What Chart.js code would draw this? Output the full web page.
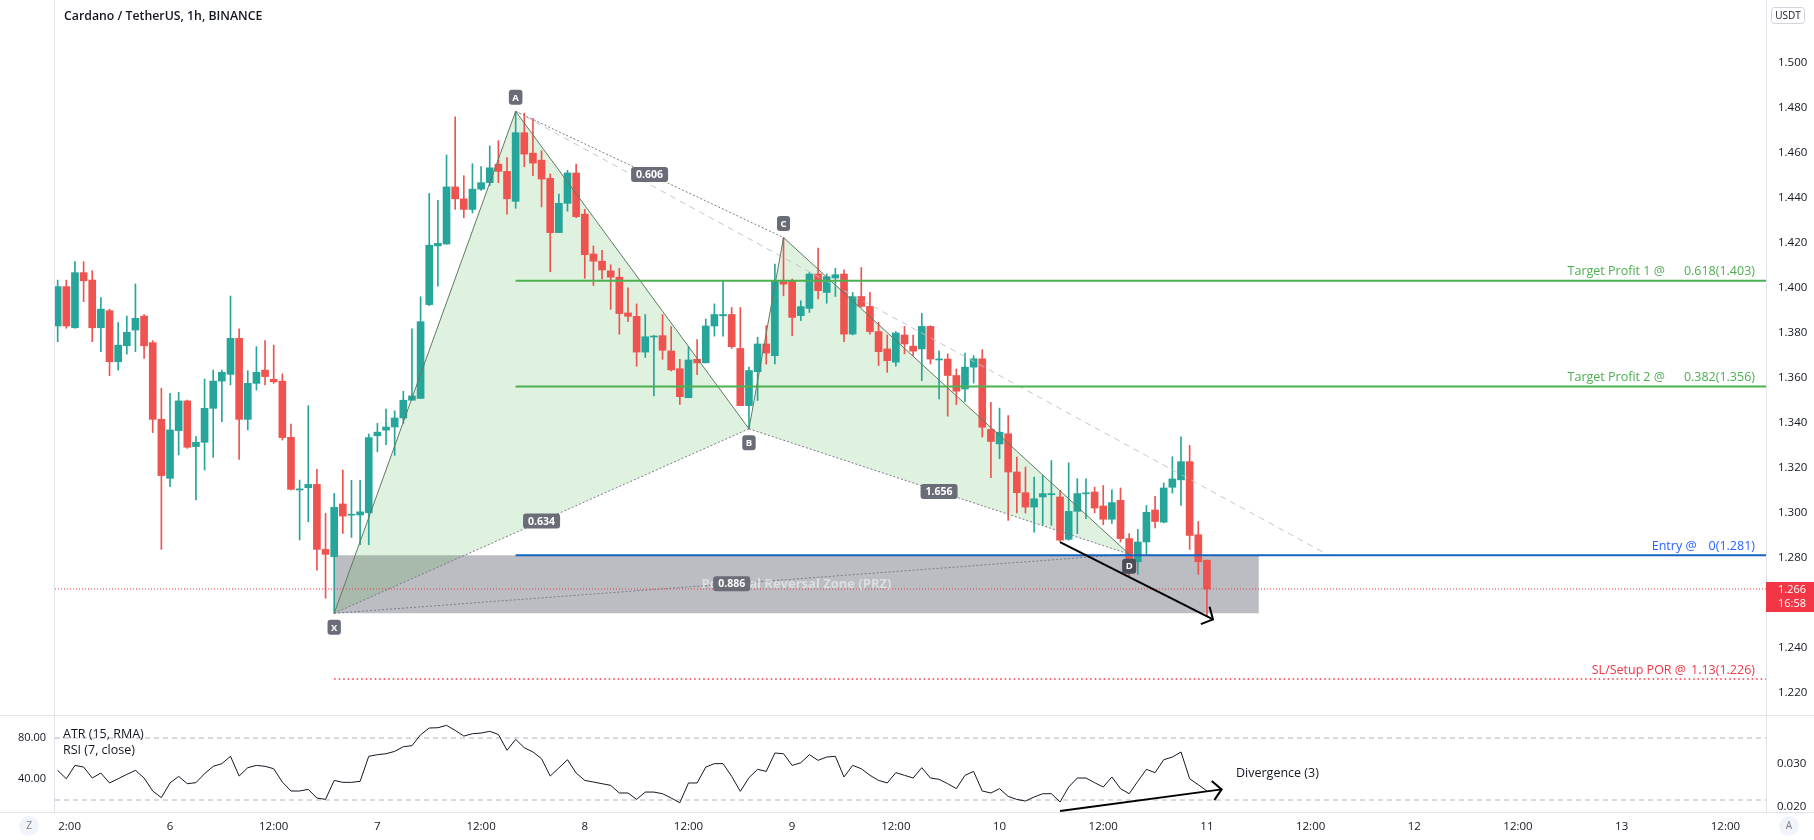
<!DOCTYPE html>
<html><head><meta charset="utf-8">
<script src="https://cdn.jsdelivr.net/npm/chart.js@4.4.0/dist/chart.umd.min.js"></script>
<style>
html,body{margin:0;padding:0;background:#fff;}
#wrap{position:relative;width:1814px;height:840px;overflow:hidden;background:#fff;}
#main{position:absolute;left:0;top:0;width:1814px;height:715px;}
#rsi{position:absolute;left:0;top:715px;width:1814px;height:125px;}
</style></head><body>
<div id="wrap"><canvas id="main" width="1814" height="715"></canvas><canvas id="rsi" width="1814" height="125"></canvas></div>
<script>
// ---------------- DATA ----------------
const chartTitle = 'Cardano / TetherUS, 1h, BINANCE';
// hours counted from day 5, 00:00 ; first candle = day 5 11:00, one candle per hour
const firstCandleHour = 11;
const opens = [1.3829,1.4004,1.3821,1.4066,1.4033,1.3821,1.3897,1.3670,1.3741,1.3811,
1.3873,1.3755,1.3414,1.3152,1.3364,1.3496,1.3293,1.3312,1.3463,1.3584,
1.3614,1.3774,1.3414,1.3574,1.3633,1.3592,1.3584,1.3334,1.3100,1.3110,
1.3125,1.2836,1.2804,1.3038,1.2988,1.2989,1.2999,1.3341,1.3366,1.3380,
1.3420,1.3499,1.3507,1.3924,1.4185,1.4193,1.4447,1.4394,1.4347,1.4437,
1.4466,1.4548,1.4516,1.4383,1.4688,1.4597,1.4566,1.4485,1.4244,1.4374,
1.4509,1.4326,1.4149,1.4117,1.4074,1.4046,1.3887,1.3872,1.3713,1.3780,
1.3786,1.3718,1.3639,1.3510,1.3681,1.3665,1.3829,1.3874,1.3880,1.3729,
1.3475,1.3626,1.3749,1.3697,1.4030,1.4030,1.3875,1.3907,1.4060,1.3978,
1.4042,1.4060,1.3793,1.3960,1.3916,1.3804,1.3727,1.3668,1.3789,1.3739,
1.3727,1.3827,1.3678,1.3682,1.3609,1.3549,1.3646,1.3683,1.3369,1.3305,
1.3350,1.3180,1.3088,1.3024,1.3069,1.3079,1.3069,1.2881,1.3005,1.3083,
1.3091,1.3029,1.2970,1.3054,1.2884,1.2781,1.2869,1.3011,1.2957,1.3112,
1.3145,1.3226,1.2901,1.2788];
const highs = [1.4033,1.4033,1.4115,1.4115,1.4075,1.3955,1.3904,1.3844,1.3873,1.4016,
1.3880,1.3764,1.3552,1.3530,1.3534,1.3500,1.3337,1.3593,1.3633,1.3633,
1.3962,1.3816,1.3630,1.3737,1.3764,1.3744,1.3616,1.3393,1.3144,1.3475,
1.3192,1.2996,1.3085,1.3189,1.3143,1.3143,1.3349,1.3396,1.3460,1.3452,
1.3539,1.3816,1.3959,1.4418,1.4387,1.4589,1.4759,1.4497,1.4550,1.4537,
1.4629,1.4653,1.4577,1.4783,1.4775,1.4751,1.4608,1.4505,1.4415,1.4521,
1.4548,1.4347,1.4185,1.4165,1.4101,1.4085,1.3998,1.3927,1.3880,1.3786,
1.3880,1.3826,1.3681,1.3737,1.3769,1.3860,1.3927,1.4030,1.3911,1.3911,
1.3646,1.3779,1.3830,1.4104,1.4222,1.4037,1.3941,1.4067,1.4175,1.4060,
1.4085,1.4079,1.3978,1.4089,1.3978,1.3845,1.3789,1.3804,1.3827,1.3789,
1.3885,1.3830,1.3719,1.3705,1.3638,1.3708,1.3697,1.3724,1.3490,1.3464,
1.3431,1.3246,1.3202,1.3157,1.3165,1.3231,1.3098,1.3221,1.3150,1.3150,
1.3113,1.3120,1.3101,1.3109,1.2906,1.2925,1.3031,1.3072,1.3131,1.3248,
1.3336,1.3298,1.2960,1.2788];
const lows = [1.3759,1.3819,1.3819,1.3937,1.3759,1.3715,1.3608,1.3633,1.3704,1.3715,
1.3685,1.3355,1.2836,1.3115,1.3256,1.3285,1.3056,1.3189,1.3245,1.3404,
1.3567,1.3236,1.3367,1.3544,1.3567,1.3574,1.3322,1.3100,1.2878,1.2959,
1.2744,1.2619,1.2552,1.2907,1.2889,1.2857,1.2857,1.3270,1.3301,1.3254,
1.3396,1.3499,1.3507,1.3919,1.4006,1.4193,1.4347,1.4310,1.4331,1.4432,
1.4453,1.4466,1.4326,1.4352,1.4537,1.4497,1.4358,1.4070,1.4244,1.4339,
1.4310,1.4041,1.4009,1.4038,1.3903,1.3792,1.3848,1.3650,1.3689,1.3518,
1.3681,1.3629,1.3480,1.3510,1.3613,1.3665,1.3784,1.3784,1.3729,1.3475,
1.3372,1.3498,1.3660,1.3660,1.3963,1.3786,1.3853,1.3889,1.3949,1.3930,
1.3960,1.3759,1.3789,1.3912,1.3793,1.3653,1.3623,1.3650,1.3705,1.3697,
1.3586,1.3660,1.3505,1.3428,1.3480,1.3493,1.3575,1.3335,1.3155,1.3239,
1.2965,1.2998,1.2998,1.2913,1.2947,1.2943,1.2872,1.2877,1.2906,1.2973,
1.2998,1.2946,1.2951,1.2869,1.2714,1.2725,1.2810,1.2932,1.2954,1.3086,
1.3031,1.2836,1.2725,1.2542];
const closes = [1.4004,1.3829,1.4066,1.4030,1.3821,1.3904,1.3670,1.3744,1.3801,1.3863,
1.3741,1.3414,1.3164,1.3367,1.3496,1.3290,1.3312,1.3463,1.3584,1.3623,
1.3774,1.3414,1.3574,1.3623,1.3604,1.3581,1.3333,1.3103,1.3105,1.3125,
1.2836,1.2814,1.3023,1.2984,1.2992,1.3003,1.3333,1.3357,1.3380,1.3420,
1.3499,1.3518,1.3848,1.4188,1.4196,1.4447,1.4394,1.4347,1.4437,1.4466,
1.4532,1.4516,1.4394,1.4688,1.4593,1.4553,1.4482,1.4244,1.4374,1.4509,
1.4315,1.4146,1.4117,1.4078,1.4046,1.3884,1.3872,1.3713,1.3781,1.3784,
1.3721,1.3634,1.3515,1.3678,1.3665,1.3829,1.3880,1.3880,1.3737,1.3475,
1.3631,1.3749,1.3709,1.4030,1.4015,1.3867,1.3915,1.4060,1.3986,1.4048,
1.4057,1.3793,1.3960,1.3916,1.3804,1.3715,1.3675,1.3798,1.3749,1.3717,
1.3827,1.3682,1.3682,1.3609,1.3539,1.3646,1.3683,1.3379,1.3316,1.3357,
1.3180,1.3088,1.3024,1.3061,1.3084,1.3084,1.2877,1.3005,1.3084,1.3087,
1.3020,1.2970,1.3044,1.2884,1.2795,1.2869,1.3001,1.2960,1.3109,1.3149,
1.3226,1.2898,1.2781,1.2660];
const rsi7 = [48.7,40.6,53.5,51.9,41.3,46.1,36.5,40.6,44.8,48.7,
41.3,28.7,22.3,36.5,42.9,35.8,36.8,45.5,52.6,55.2,
62.3,43.2,51.3,53.5,52.6,50.3,37.4,28.7,28.7,30.3,
21.9,20.6,39.0,37.1,37.1,38.1,62.3,63.9,64.8,67.1,
71.6,72.6,83.2,89.7,90.0,92.3,87.4,81.9,84.2,84.8,
86.5,83.5,68.1,78.7,70.6,66.5,60.0,43.2,51.0,59.0,
46.1,39.0,37.4,35.8,34.2,26.8,26.8,20.6,27.7,27.7,
26.1,21.9,17.4,36.5,36.5,51.9,55.2,55.2,42.9,28.4,
41.6,49.7,47.7,65.5,64.8,53.5,56.1,63.9,58.4,61.6,
62.3,42.3,53.5,50.3,43.9,39.0,36.5,46.5,43.9,41.3,
51.3,41.3,40.0,35.8,31.0,43.9,47.7,28.7,26.8,31.0,
23.5,20.6,19.0,22.9,26.1,26.1,18.1,32.6,41.3,41.3,
36.8,32.6,42.3,31.0,26.1,38.1,49.7,46.5,59.0,61.6,
66.5,40.6,34.8,28.7];

const priceTicks = [1.50,1.48,1.46,1.44,1.42,1.40,1.38,1.36,1.34,1.32,1.30,1.28,1.24,1.22];
const rsiTicks = [80, 40];
const atrTicks = [0.030, 0.020];
const rsiBands = [80, 20];
const timeTickHours  = [12,24,36,48,60,72,84,96,108,120,132,144,156,168,180,192,204];
const timeTickLabels = ['12:00','6','12:00','7','12:00','8','12:00','9','12:00','10','12:00','11','12:00','12','12:00','13','12:00'];

// harmonic pattern
const patternNames  = ['X','A','B','C','D'];
const patternHours  = [43, 64, 91, 95, 135];
const patternPrices = [1.2552, 1.4783, 1.3372, 1.4222, 1.2815];
const ratioLegs   = [['X','B'],['A','C'],['B','D'],['X','D']];
const ratioLabels = ['0.634','0.606','1.656','0.886'];
const projEndHour = 158.1, projEndPrice = 1.281;

// trade levels
const levelNames  = ['Target Profit 1 @','Target Profit 2 @','Entry @','SL/Setup POR @'];
const levelValues = ['0.618(1.403)','0.382(1.356)','0(1.281)','1.13(1.226)'];
const levelPrices = [1.403, 1.356, 1.281, 1.226];

const przTop = 1.281, przBottom = 1.2552, przEndHour = 150;
const przText = 'Potential Reversal Zone (PRZ)';
const lastPrice = 1.266, countdown = '16:58';

const priceDivHours = [127, 144.7], priceDivValues = [1.2868, 1.2525];
const rsiDivHours = [127, 145.7], rsiDivValues = [9.4, 30.3];
const divergenceText = 'Divergence (3)';
const paneLegends = ['ATR (15, RMA)', 'RSI (7, close)'];

// ---------------- CHART ----------------
Chart.defaults.font.family = "'Open Sans', 'DejaVu Sans', sans-serif";
Chart.defaults.color = '#131722';
const X_MIN = 10.69, X_MAX = 208.7;
const UP = '#26a69a', DOWN = '#ef5350';
const hourIdx = opens.map((_, i) => firstCandleHour + i);
const candleColors = hourIdx.map((_, i) => closes[i] >= opens[i] ? UP : DOWN);
const P = n => { const k = patternNames.indexOf(n); return {x: patternHours[k], y: patternPrices[k]}; };

function lineDs(points, color, width, dash, order, extra) {
  return Object.assign({type:'line', data: points, borderColor: color, borderWidth: width,
    borderDash: dash || [], pointRadius: 0, tension: 0, fill: false, order: order}, extra || {});
}

const mainDatasets = [
  lineDs([{x:P('X').x,y:przTop},{x:przEndHour,y:przTop},{x:przEndHour,y:przBottom},{x:P('X').x,y:przBottom},{x:P('X').x,y:przTop}],
    'rgba(0,0,0,0)', 0, [], 30, {fill:'shape', backgroundColor:'rgba(120,123,134,0.5)'}),
  lineDs([P('X'),P('A'),P('B'),P('X')], 'rgba(0,0,0,0)', 0, [], 29, {fill:'shape', backgroundColor:'rgba(76,175,80,0.18)'}),
  lineDs([P('B'),P('C'),P('D'),P('B')], 'rgba(0,0,0,0)', 0, [], 28, {fill:'shape', backgroundColor:'rgba(76,175,80,0.18)'}),
  {type:'bar', data: hourIdx.map((h,i)=>({x:h, y:[opens[i], closes[i]]})), backgroundColor: candleColors,
    barThickness: 7, minBarLength: 1, grouped: false, order: 10},
  {type:'bar', data: hourIdx.map((h,i)=>({x:h, y:[lows[i], highs[i]]})), backgroundColor: candleColors,
    barThickness: 1, grouped: false, order: 11},
  lineDs([P('A'), {x:projEndHour, y:projEndPrice}], 'rgba(190,192,198,0.9)', 1, [6,5], 6),
  ...ratioLegs.map(([a,b]) => lineDs([P(a),P(b)], '#787b86', 1, [2,2], 5)),
  lineDs(patternNames.map(P), '#5f7a60', 1, [], 4),
  lineDs([{x:P('A').x,y:levelPrices[0]},{x:X_MAX,y:levelPrices[0]}], '#4caf50', 2, [], 3),
  lineDs([{x:P('A').x,y:levelPrices[1]},{x:X_MAX,y:levelPrices[1]}], '#4caf50', 2, [], 3),
  lineDs([{x:P('A').x,y:levelPrices[2]},{x:X_MAX,y:levelPrices[2]}], '#1565c0', 2, [], 3),
  lineDs([{x:P('X').x,y:levelPrices[3]},{x:X_MAX,y:levelPrices[3]}], '#f23645', 1.5, [1.5,3], 3),
  lineDs([{x:X_MIN,y:lastPrice},{x:X_MAX,y:lastPrice}], '#f23645', 1, [1,2], 3),
  lineDs(priceDivHours.map((h,i)=>({x:h,y:priceDivValues[i]})), '#000000', 2, [], 1)
];

function arrowHead(ctx, x0, y0, x1, y1, len, ang) {
  const t = Math.atan2(y1 - y0, x1 - x0);
  ctx.beginPath();
  ctx.moveTo(x1 - len*Math.cos(t - ang), y1 - len*Math.sin(t - ang));
  ctx.lineTo(x1, y1);
  ctx.lineTo(x1 - len*Math.cos(t + ang), y1 - len*Math.sin(t + ang));
  ctx.stroke();
}
function tag(ctx, text, cx, cy, bg, font, padX, h) {
  ctx.font = font;
  const w = ctx.measureText(text).width + padX*2;
  ctx.fillStyle = bg;
  ctx.beginPath(); ctx.roundRect(cx - w/2, cy - h/2, w, h, 3); ctx.fill();
  ctx.fillStyle = '#ffffff'; ctx.textAlign = 'center'; ctx.textBaseline = 'middle';
  ctx.fillText(text, cx, cy + 0.5);
}

const mainOverlay = {
  id: 'mainOverlay',
  afterDraw(chart) {
    const {ctx, chartArea: a, scales: {x, y}} = chart;
    const px = h => x.getPixelForValue(h), py = p => y.getPixelForValue(p);
    ctx.save();
    ctx.strokeStyle = '#e0e3eb'; ctx.lineWidth = 1;
    ctx.beginPath(); ctx.moveTo(a.left - 0.5, 0); ctx.lineTo(a.left - 0.5, chart.height); ctx.stroke();
    ctx.font = '600 12.3px "Open Sans"'; ctx.fillStyle = '#131722'; ctx.textAlign = 'left'; ctx.textBaseline = 'middle';
    ctx.fillText(chartTitle, 64, 16);
    ctx.font = 'bold 13px "Open Sans"'; ctx.fillStyle = 'rgba(255,255,255,0.5)'; ctx.textAlign = 'center';
    ctx.fillText(przText, (px(P('X').x) + px(przEndHour))/2, (py(przTop) + py(przBottom))/2);
    ratioLegs.forEach(([p1,p2], i) => {
      const A1 = P(p1), B1 = P(p2);
      tag(ctx, ratioLabels[i], (px(A1.x)+px(B1.x))/2, (py(A1.y)+py(B1.y))/2, '#6a6d78', 'bold 10.5px "Open Sans"', 5, 15);
    });
    const offs = {X: 14, A: -14, B: 14, C: -14, D: 12};
    patternNames.forEach(n => {
      const p = P(n);
      tag(ctx, n, px(p.x), py(p.y) + offs[n], n === 'D' ? '#4a4d57' : '#6a6d78', 'bold 9.5px "Open Sans"', 3.5, 15);
    });
    const colors = ['#4caf50','#4caf50','#2962ff','#f23645'];
    levelNames.forEach((nm, i) => {
      const yy = py(levelPrices[i]) - 9;
      ctx.font = '12.5px "Open Sans"'; ctx.fillStyle = colors[i]; ctx.textBaseline = 'middle';
      ctx.textAlign = 'right';
      const xr = a.right - 11;
      ctx.fillText(levelValues[i], xr, yy);
      const vw = ctx.measureText(levelValues[i]).width;
      const gap = i < 2 ? 19 : (i === 2 ? 12 : 5);
      ctx.fillText(nm, xr - vw - gap, yy);
    });
    ctx.strokeStyle = '#000'; ctx.lineWidth = 2;
    arrowHead(ctx, px(priceDivHours[0]), py(priceDivValues[0]), px(priceDivHours[1]), py(priceDivValues[1]), 13, 0.84);
    const yl = py(lastPrice);
    ctx.fillStyle = '#f23645';
    ctx.fillRect(a.right, yl - 7, chart.width - a.right, 30);
    ctx.fillStyle = '#ffffff'; ctx.font = '11px "Open Sans"'; ctx.textAlign = 'left'; ctx.textBaseline = 'middle';
    ctx.fillText(lastPrice.toFixed(3), a.right + 12, yl + 1);
    ctx.fillText(countdown, a.right + 12, yl + 15);
    ctx.strokeStyle = '#d1d4dc'; ctx.lineWidth = 1;
    ctx.beginPath(); ctx.roundRect(1771.5, 7.5, 33, 16, 3); ctx.stroke();
    ctx.fillStyle = '#131722'; ctx.font = '10px "Open Sans"'; ctx.textAlign = 'center';
    ctx.fillText('USDT', 1788, 16);
    ctx.restore();
  }
};

new Chart(document.getElementById('main'), {
  type: 'bar',
  data: {datasets: mainDatasets},
  options: {
    responsive: false, animation: false, events: [],
    devicePixelRatio: 1,
    layout: {padding: {left: 55, right: 0, top: 0, bottom: 0}},
    plugins: {legend: {display: false}, tooltip: {enabled: false}},
    scales: {
      x: {type: 'linear', min: X_MIN, max: X_MAX, offset: false, display: false},
      y: {type: 'linear', position: 'right', min: 1.21, max: 1.52778,
        grid: {display: false, drawTicks: false},
        border: {display: true, color: '#e0e3eb'},
        ticks: {padding: 12, font: {size: 11.5}, color: '#131722', callback: v => Number(v).toFixed(3)},
        afterBuildTicks: s => { s.ticks = priceTicks.map(v => ({value: v})); },
        afterFit: s => { s.width = 48; s.paddingTop = 0; s.paddingBottom = 0; }
      }
    }
  },
  plugins: [mainOverlay]
});

const rsiOverlay = {
  id: 'rsiOverlay',
  afterDraw(chart) {
    const {ctx, chartArea: a, scales: {x, y}} = chart;
    const px = h => x.getPixelForValue(h), py = v => y.getPixelForValue(v);
    ctx.save();
    ctx.fillStyle = '#ffffff';
    ctx.fillRect(0, a.bottom + 1, 58, chart.height - a.bottom - 1);
    ctx.strokeStyle = '#e0e3eb'; ctx.lineWidth = 1;
    ctx.beginPath(); ctx.moveTo(0, 0.5); ctx.lineTo(chart.width, 0.5); ctx.stroke();
    ctx.beginPath(); ctx.moveTo(0, a.bottom + 0.5); ctx.lineTo(chart.width, a.bottom + 0.5); ctx.stroke();
    ctx.beginPath(); ctx.moveTo(a.left - 0.5, 0); ctx.lineTo(a.left - 0.5, a.bottom); ctx.stroke();
    ctx.fillStyle = '#131722'; ctx.font = '12.5px "Open Sans"'; ctx.textAlign = 'left'; ctx.textBaseline = 'middle';
    ctx.fillText(paneLegends[0], 63, 19);
    ctx.fillText(paneLegends[1], 63, 35);
    ctx.strokeStyle = '#000'; ctx.lineWidth = 2;
    arrowHead(ctx, px(rsiDivHours[0]), py(rsiDivValues[0]), px(rsiDivHours[1]), py(rsiDivValues[1]), 13, 0.84);
    ctx.fillStyle = '#131722'; ctx.font = '12.5px "Open Sans"';
    ctx.fillText(divergenceText, 1236, 58);
    const circ = (cx, t) => {
      ctx.fillStyle = '#f0f3fa'; ctx.beginPath(); ctx.arc(cx, 111, 10, 0, Math.PI*2); ctx.fill();
      ctx.fillStyle = '#787b86'; ctx.font = '10px "Open Sans"'; ctx.textAlign = 'center'; ctx.fillText(t, cx, 111);
    };
    circ(29, 'Z'); circ(1789, 'A');
    ctx.restore();
  }
};

new Chart(document.getElementById('rsi'), {
  type: 'line',
  data: {datasets: [
    lineDs(hourIdx.map((h,i)=>({x:h, y:rsi7[i]})), '#131722', 1, [], 2),
    ...rsiBands.map(v => lineDs([{x:X_MIN,y:v},{x:X_MAX,y:v}], '#b2b5be', 1, [5,4], 3)),
    lineDs(rsiDivHours.map((h,i)=>({x:h, y:rsiDivValues[i]})), '#000000', 2, [], 1)
  ]},
  options: {
    responsive: false, animation: false, events: [],
    devicePixelRatio: 1,
    layout: {padding: 0},
    plugins: {legend: {display: false}, tooltip: {enabled: false}},
    scales: {
      x: {type: 'linear', min: X_MIN, max: X_MAX, offset: false,
        grid: {display: false, drawTicks: false}, border: {display: false},
        ticks: {padding: 8, autoSkip: false, maxRotation: 0, font: {size: 11.5}, color: '#131722',
          callback: v => { const k = timeTickHours.indexOf(v); return k >= 0 ? timeTickLabels[k] : ''; }},
        afterBuildTicks: s => { s.ticks = timeTickHours.map(v => ({value: v})); },
        afterFit: s => { s.height = 28; s.paddingLeft = 0; s.paddingRight = 0; }
      },
      y: {type: 'linear', position: 'left', min: 8.4, max: 102.3,
        grid: {display: false, drawTicks: false}, border: {display: false},
        ticks: {padding: 9, font: {size: 11}, color: '#131722', callback: v => Number(v).toFixed(2)},
        afterBuildTicks: s => { s.ticks = rsiTicks.map(v => ({value: v})); },
        afterFit: s => { s.width = 55; s.paddingTop = 0; s.paddingBottom = 0; }
      },
      atr: {type: 'linear', position: 'right', min: 0.0187, max: 0.04136,
        grid: {display: false, drawTicks: false}, border: {display: true, color: '#e0e3eb'},
        ticks: {padding: 11, font: {size: 11.5}, color: '#131722', callback: v => Number(v).toFixed(3)},
        afterBuildTicks: s => { s.ticks = atrTicks.map(v => ({value: v})); },
        afterFit: s => { s.width = 48; s.paddingTop = 0; s.paddingBottom = 0; }
      }
    }
  },
  plugins: [rsiOverlay]
});
</script>
</body></html>
